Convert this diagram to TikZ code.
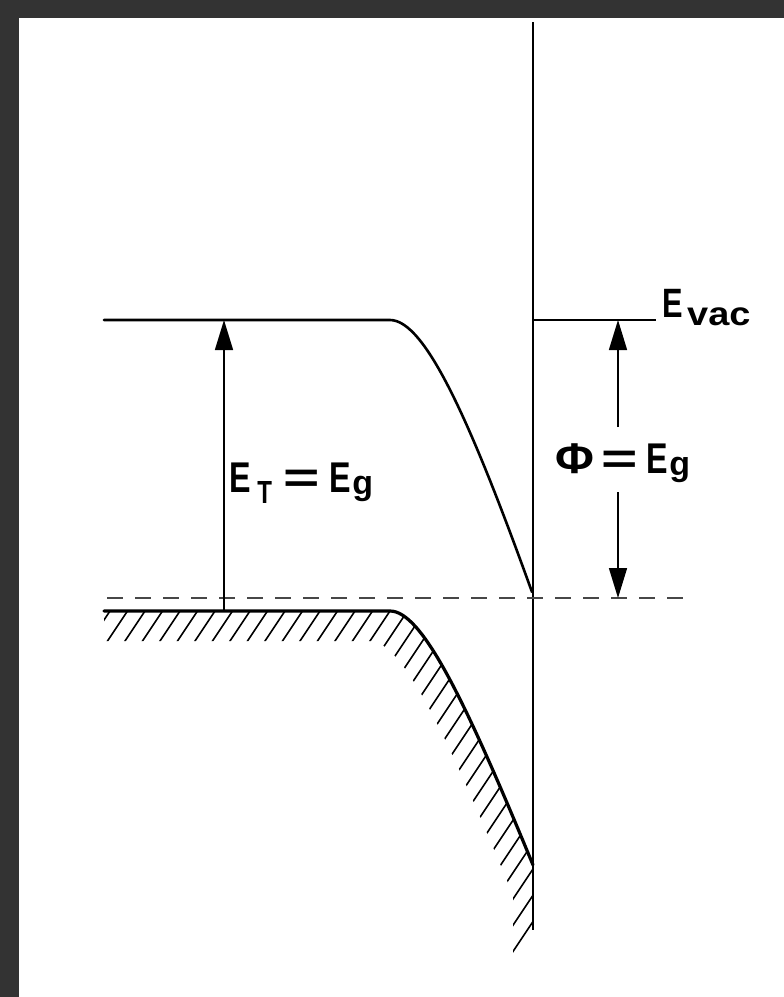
\documentclass[tikz,border=0pt]{standalone}
\usepackage{fontspec}
\setmainfont{Liberation Sans}
\usetikzlibrary{arrows.meta}
\newcommand{\nar}[1]{\scalebox{0.75}[1]{#1}}
\newcommand{\gsub}{\raisebox{-2pt}{\fontsize{34}{34}\selectfont g}}
\newcommand{\eqs}{\scalebox{1.45}[1]{=}}
\begin{document}
\begin{tikzpicture}[x=1pt,y=-1pt,
  band/.style={line width=2.6pt, line join=round, line cap=round},
  vband/.style={line width=3.2pt, line join=round, line cap=round},
  thinline/.style={line width=1.6pt},
  hatchline/.style={line width=1.6pt},
  dashline/.style={line width=1.6pt, draw=black!72, dash pattern=on 16pt off 12pt},
  arr/.style={line width=1.5pt, -{Triangle[length=30pt,width=18pt]}},
  lbl/.style={font=\fontsize{43}{43}\selectfont\bfseries, inner sep=0pt, anchor=base west}]
\useasboundingbox (0,0) rectangle (784,997);
\fill[white] (0,0) rectangle (784,997);
\fill[black!80] (0,0) rectangle (19,997);
\fill[black!80] (0,0) rectangle (784,18);

% hatching below the valence band
\begin{scope}
\clip (104,611) -- (390,611) .. controls (422,611) and (465,700) .. (533,865)
  -- (533,930) -- (513,960) -- (513,895)
  .. controls (445,730) and (402,641) .. (370,641)
  -- (104,641) -- cycle;
\foreach \x in {110,127.5,...,800} \draw[hatchline] (\x+20,581) -- (\x-260,1001);
\end{scope}

% valence band edge
\draw[vband] (104,611) -- (390,611) .. controls (422,611) and (465,700) .. (533,865);

% conduction band edge
\draw[band] (104,320) -- (390,320) .. controls (425,320) and (470,420) .. (532,592);

% surface
\draw[line width=2.4pt] (533,22) -- (533,930);

% vacuum level
\coordinate (vacL) at (533,320);
\coordinate (vacR) at (656,320);
\draw[thinline] (vacL) -- (vacR);
\node[lbl, font=\fontsize{41}{41}\selectfont\bfseries] (evac) at (662.5,317) {\nar{E}\hspace{4pt}\raisebox{-8pt}{\fontsize{33}{33}\selectfont\scalebox{1.15}[1]{vac}}};

% Fermi level (dashed)
\coordinate (fermiL) at (107,598);
\coordinate (fermiR) at (692,598);
\draw[dashline] (fermiL) -- (fermiR);

% E_T arrow
\coordinate (ETtop) at (224,320);
\coordinate (ETbot) at (224,611);
\draw[arr] (ETbot) -- (ETtop);
\node[lbl] (ET) at (229.6,492) {\nar{E}\hspace{6pt}\raisebox{-11pt}{\fontsize{32}{32}\selectfont\nar{T}}\hspace{12pt}\eqs\hspace{9.4pt}\nar{E}\hspace{1pt}\gsub};

% Phi arrow
\coordinate (phiA) at (618,320);
\coordinate (phiB) at (618,598);
\node[lbl] (phi) at (555.6,473) {\scalebox{1.1}[1]{Φ}\hspace{6.4pt}\eqs\hspace{9.4pt}\nar{E}\hspace{1pt}\gsub};
\coordinate (phiTop) at (618,427);
\coordinate (phiBot) at (618,492);
\draw[arr] (phiTop) -- (phiA);
\draw[arr] (phiBot) -- (phiB);
\end{tikzpicture}
\end{document}
